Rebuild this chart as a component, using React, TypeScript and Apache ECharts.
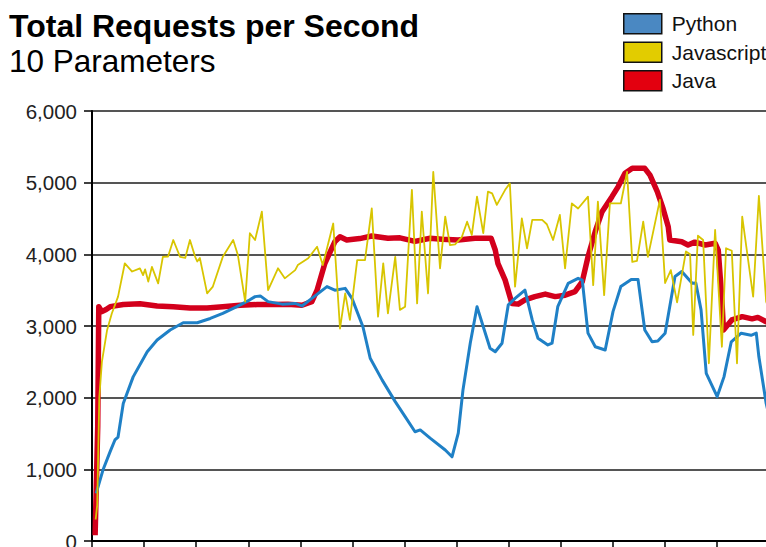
import React, { useEffect, useRef } from "react";
import * as echarts from "echarts";

// ---- Data (x: seconds, y: requests per second) ----
const TITLE = "Total Requests per Second";
const SUBTITLE = "10 Parameters";
const SERIES_NAMES = ["Python", "Javascript", "Java"];

const Y_MIN = 0;
const Y_MAX = 6000;
const Y_STEP = 1000;
const X_MIN = 0;
const X_MAX = 140;
const X_STEP = 10;

const javaData: [number, number][] = [
  [0.6, 80], [1.1, 1600], [1.3, 3270], [1.9, 3200], [2.7, 3230], [3.5, 3270], [6.0, 3300], [9.2, 3310],
  [12.5, 3280], [15.6, 3270], [18.8, 3250], [22.1, 3250], [25.1, 3270], [28.4, 3290], [31.7, 3300],
  [34.6, 3300], [37.6, 3305], [40.3, 3290], [42.2, 3340], [43.2, 3500], [44.7, 3875], [46.6, 4175],
  [47.6, 4245], [48.9, 4200], [51.4, 4220], [53.7, 4255], [56.8, 4225], [59.1, 4230], [62.0, 4180],
  [64.9, 4225], [67.2, 4210], [70.3, 4200], [73.5, 4225], [76.6, 4225], [77.4, 4060], [77.9, 3875],
  [79.3, 3640], [80.6, 3315], [81.8, 3305], [83.1, 3365], [85.0, 3410], [87.0, 3445], [88.9, 3410],
  [90.8, 3430], [92.7, 3480], [94.1, 3620], [95.2, 3965], [96.6, 4320], [97.9, 4595], [99.8, 4805],
  [101.0, 4945], [102.3, 5130], [103.7, 5200], [106.1, 5200], [107.1, 5105], [108.5, 4875], [109.6, 4640],
  [110.6, 4385], [110.9, 4200], [113.2, 4175], [114.4, 4130], [115.7, 4170], [117.7, 4130], [119.6, 4155],
  [120.2, 4060], [120.9, 3365], [121.2, 2945], [122.8, 3085], [124.8, 3130], [126.7, 3100], [127.8, 3120],
  [129.4, 3060], [131.1, 3050],
];

const pythonData: [number, number][] = [
  [0.8, 665], [2.1, 990], [3.5, 1250], [4.4, 1410], [5.0, 1450], [6.0, 1920], [7.9, 2290], [10.6, 2640],
  [12.5, 2805], [15.0, 2945], [17.5, 3045], [20.2, 3045], [22.7, 3105], [25.1, 3175], [27.8, 3270],
  [30.3, 3365], [31.3, 3410], [32.3, 3420], [33.8, 3340], [36.5, 3305], [39.0, 3315], [40.3, 3280],
  [42.2, 3385], [45.1, 3550], [46.6, 3500], [48.6, 3525], [49.9, 3385], [52.0, 2990], [53.4, 2550],
  [55.7, 2245], [58.2, 1945], [60.1, 1735], [62.0, 1525], [63.0, 1550], [64.9, 1435], [67.8, 1270],
  [69.1, 1175], [70.3, 1505], [71.2, 2105], [72.6, 2760], [73.9, 3270], [75.1, 2990], [76.4, 2690],
  [77.4, 2640], [78.7, 2760], [79.9, 3295], [81.2, 3385], [83.1, 3500], [84.5, 3085], [85.6, 2830],
  [87.5, 2735], [88.3, 2760], [89.4, 3270], [91.4, 3595], [93.3, 3665], [94.1, 3640], [95.2, 2900],
  [96.6, 2710], [98.5, 2665], [100.0, 3200], [101.5, 3550], [103.5, 3650], [104.8, 3650], [106.1, 2945],
  [107.5, 2780], [108.6, 2790], [110.0, 2900], [111.9, 3690], [113.2, 3760], [115.2, 3595], [115.9, 3600],
  [116.9, 3225], [117.9, 2340], [120.0, 2015], [121.3, 2290], [122.7, 2780], [124.6, 2900], [126.5, 2870],
  [127.5, 2900], [128.0, 2570], [129.4, 1920], [130.1, 1700],
];

const javascriptData: [number, number][] = [
  [0.7, 300], [1.0, 500], [1.4, 2000], [1.9, 2500], [2.9, 2945], [3.8, 3175], [5.0, 3410], [6.3, 3875],
  [7.7, 3760], [9.2, 3805], [9.8, 3710], [10.2, 3790], [10.8, 3620], [11.5, 3825], [12.7, 3595],
  [13.6, 3965], [14.6, 3970], [15.6, 4200], [16.9, 3965], [17.9, 3950], [18.8, 4200], [19.8, 3965],
  [20.2, 3900], [20.7, 3950], [22.1, 3455], [23.2, 3550], [25.1, 3965], [27.1, 4200], [28.0, 3990],
  [29.4, 3340], [30.3, 4295], [31.3, 4200], [32.6, 4595], [33.8, 3500], [35.7, 3805], [37.0, 3665],
  [39.0, 3780], [39.5, 3850], [41.5, 3945], [43.2, 4105], [44.3, 3850], [46.3, 4430], [47.6, 2965],
  [48.6, 3455], [49.5, 3085], [50.9, 3920], [52.4, 3920], [53.7, 4640], [54.9, 3130], [55.9, 3875],
  [56.8, 3175], [58.2, 3965], [59.1, 3225], [60.1, 3270], [61.4, 4900], [62.4, 3315], [63.3, 4595],
  [64.5, 3455], [65.5, 5150], [66.8, 3805], [67.8, 4525], [68.7, 4130], [69.7, 4140], [71.0, 4245],
  [72.0, 4455], [72.9, 4270], [73.9, 4805], [75.1, 4295], [76.0, 4875], [76.8, 4850], [77.7, 4690],
  [79.3, 4900], [80.2, 4990], [81.2, 3550], [82.5, 4500], [83.5, 4085], [84.5, 4480], [86.4, 4480],
  [87.3, 4420], [88.5, 4200], [89.8, 4550], [90.8, 3805], [92.1, 4710], [93.3, 4640], [95.2, 4805],
  [96.2, 3570], [97.1, 4735], [98.3, 3430], [99.4, 4710], [101.5, 4710], [102.7, 5150], [103.7, 3895],
  [104.6, 3910], [105.8, 4455], [106.7, 3965], [109.0, 4760], [110.0, 3600], [111.1, 3780], [112.3, 3330],
  [114.0, 4040], [114.8, 4000], [115.4, 2875], [116.3, 4260], [117.3, 4200], [118.4, 2480], [119.6, 4340],
  [120.9, 2710], [121.7, 4085], [122.8, 4050], [123.8, 2480], [124.8, 4525], [126.9, 3410], [128.0, 4815],
  [129.4, 3340], [130.1, 3200],
];

const FONT = "'Liberation Sans', Arial, Helvetica, sans-serif";

export default function App() {
  const ref = useRef<HTMLDivElement>(null);

  useEffect(() => {
    if (!ref.current) return;
    const chart = echarts.init(ref.current, undefined, { renderer: "svg" });
    chart.setOption({
      animation: false,
      backgroundColor: "#ffffff",
      title: {
        text: TITLE,
        subtext: SUBTITLE,
        left: 9,
        top: 10,
        padding: 0,
        itemGap: 3,
        textStyle: { fontSize: 32, fontWeight: "bold", color: "#000", fontFamily: FONT },
        subtextStyle: { fontSize: 31.5, color: "#000", fontFamily: FONT },
      },
      legend: {
        orient: "vertical",
        left: 623,
        top: 13,
        padding: 0,
        itemWidth: 38,
        itemHeight: 20,
        itemGap: 7,
        icon: "rect",
        selectedMode: false,
        itemStyle: { borderColor: "#111", borderWidth: 1.5 },
        textStyle: { fontSize: 21, color: "#111", fontFamily: FONT, padding: [0, 0, 0, 5] },
        data: [
          { name: SERIES_NAMES[0], itemStyle: { color: "#4a88c2" } },
          { name: SERIES_NAMES[1], itemStyle: { color: "#e2cc00" } },
          { name: SERIES_NAMES[2], itemStyle: { color: "#e3000f" } },
        ],
      },
      grid: { left: 92, top: 111, width: 729.4, height: 430, containLabel: false },
      xAxis: {
        type: "value",
        min: X_MIN,
        max: X_MAX,
        interval: X_STEP,
        axisLine: { show: true, lineStyle: { color: "#000", width: 2 } },
        axisTick: { show: true, length: 7, lineStyle: { color: "#000", width: 1.5 } },
        axisLabel: { show: false },
        splitLine: { show: false },
      },
      yAxis: {
        type: "value",
        min: Y_MIN,
        max: Y_MAX,
        interval: Y_STEP,
        axisLine: { show: true, lineStyle: { color: "#000", width: 2 } },
        axisTick: { show: true, length: 8, lineStyle: { color: "#000", width: 1.5 } },
        axisLabel: {
          margin: 15,
          fontSize: 20.5,
          color: "#222",
          fontFamily: FONT,
          formatter: (v: number) => v.toLocaleString("en-US"),
        },
        splitLine: { show: true, lineStyle: { color: "#555", width: 1.8 } },
      },
      series: [
        {
          name: SERIES_NAMES[2],
          type: "line",
          data: javaData,
          showSymbol: false,
          symbol: "none",
          color: "#e3000f",
          lineStyle: { color: "#d3001c", width: 5.5, join: "round" },
          z: 2,
        },
        {
          name: SERIES_NAMES[0],
          type: "line",
          data: pythonData,
          showSymbol: false,
          symbol: "none",
          color: "#4a88c2",
          lineStyle: { color: "#1f80c6", width: 3, join: "round" },
          z: 3,
        },
        {
          name: SERIES_NAMES[1],
          type: "line",
          data: javascriptData,
          showSymbol: false,
          symbol: "none",
          color: "#e2cc00",
          lineStyle: { color: "#d8c500", width: 1.8, join: "round" },
          z: 4,
        },
      ],
    });
    return () => chart.dispose();
  }, []);

  return (
    <div style={{ position: "fixed", left: 0, top: 0, width: 766, height: 547, overflow: "hidden", background: "#fff" }}>
      <div ref={ref} style={{ width: 835, height: 560 }} />
    </div>
  );
}
